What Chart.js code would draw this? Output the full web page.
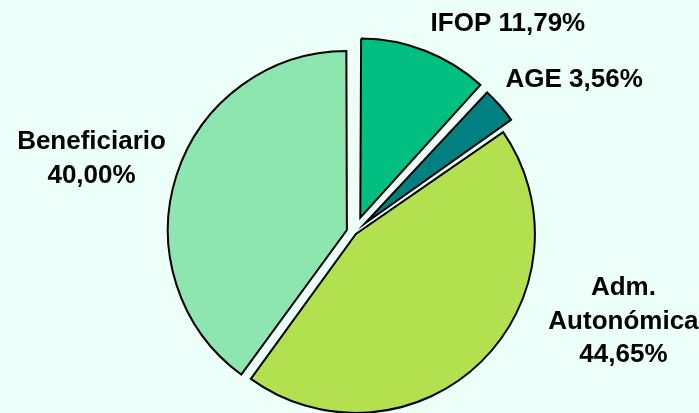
<!DOCTYPE html>
<html>
<head>
<meta charset="utf-8">
<script src="https://cdn.jsdelivr.net/npm/chart.js@4/dist/chart.umd.min.js"></script>
<style>
  html, body { margin: 0; padding: 0; background: #ecfff8; overflow: hidden; }
  canvas { display: block; }
</style>
</head>
<body>
<canvas id="pieChart" width="699" height="413"></canvas>
<script>
// data
const categories = ['IFOP', 'AGE', 'Adm. Autonómica', 'Beneficiario'];
const shares = [11.79, 3.56, 44.65, 40.00];

// look
const sliceColors = ['#00BF80', '#008080', '#B3E04F', '#8DE6B0'];
const explodePx = [16, 14, 2, 8];        // how far each slice is pulled out
const labelInline = [true, true, false, false];
const labelAngle = [36.0, 54.9, 107.9, 286.1]; // degrees, clockwise from top
const labelDist = [1.458, 1.50, 1.579, 1.529]; // in radii from centre
const lineHeight = 33.5;

function pct(v) {
  return v.toFixed(2).replace('.', ',') + '%';
}

// chart.js grows exploded arcs a little, pull them back to the common radius
const keepRadius = {
  id: 'keepRadius',
  beforeDatasetsDraw(chart) {
    const meta = chart.getDatasetMeta(0);
    const R = meta.controller.outerRadius;
    meta.data.forEach(arc => {
      const shift = (arc.options.offset || 0) / 4;
      const fix = 1 - Math.sin(Math.min(Math.PI, arc.circumference));
      arc.outerRadius = R - shift * fix;
    });
  }
};

const sliceLabels = {
  id: 'sliceLabels',
  afterDatasetsDraw(chart) {
    const ctx = chart.ctx;
    const meta = chart.getDatasetMeta(0);
    const R = meta.controller.outerRadius;
    ctx.save();
    ctx.font = 'bold 26px "Liberation Sans", Arial, sans-serif';
    ctx.fillStyle = '#000';
    ctx.textAlign = 'center';
    ctx.textBaseline = 'alphabetic';
    meta.data.forEach((arc, i) => {
      const a = (labelAngle[i] - 90) * Math.PI / 180;
      const x = arc.x + Math.cos(a) * R * labelDist[i];
      const y = arc.y + Math.sin(a) * R * labelDist[i];
      const lines = labelInline[i]
        ? [categories[i] + ' ' + pct(shares[i])]
        : categories[i].split(' ').concat([pct(shares[i])]);
      lines.forEach((t, k) => {
        const cy = y + (k - (lines.length - 1) / 2) * lineHeight;
        ctx.fillText(t, x, cy + 9.3);
      });
    });
    ctx.restore();
  }
};

new Chart(document.getElementById('pieChart'), {
  type: 'pie',
  data: {
    labels: categories,
    datasets: [{
      data: shares,
      backgroundColor: sliceColors,
      borderColor: '#000000',
      borderWidth: 2,
      borderJoinStyle: 'miter',
      offset: explodePx.map(v => v * 4),
      hoverOffset: 0,
      radius: 179,
      clip: false
    }]
  },
  options: {
    responsive: false,
    animation: false,
    events: [],
    radius: 179,
    layout: { padding: { left: 10, top: 52, right: 0, bottom: 0 } },
    plugins: {
      legend: { display: false },
      tooltip: { enabled: false }
    }
  },
  plugins: [keepRadius, sliceLabels]
});
</script>
</body>
</html>
